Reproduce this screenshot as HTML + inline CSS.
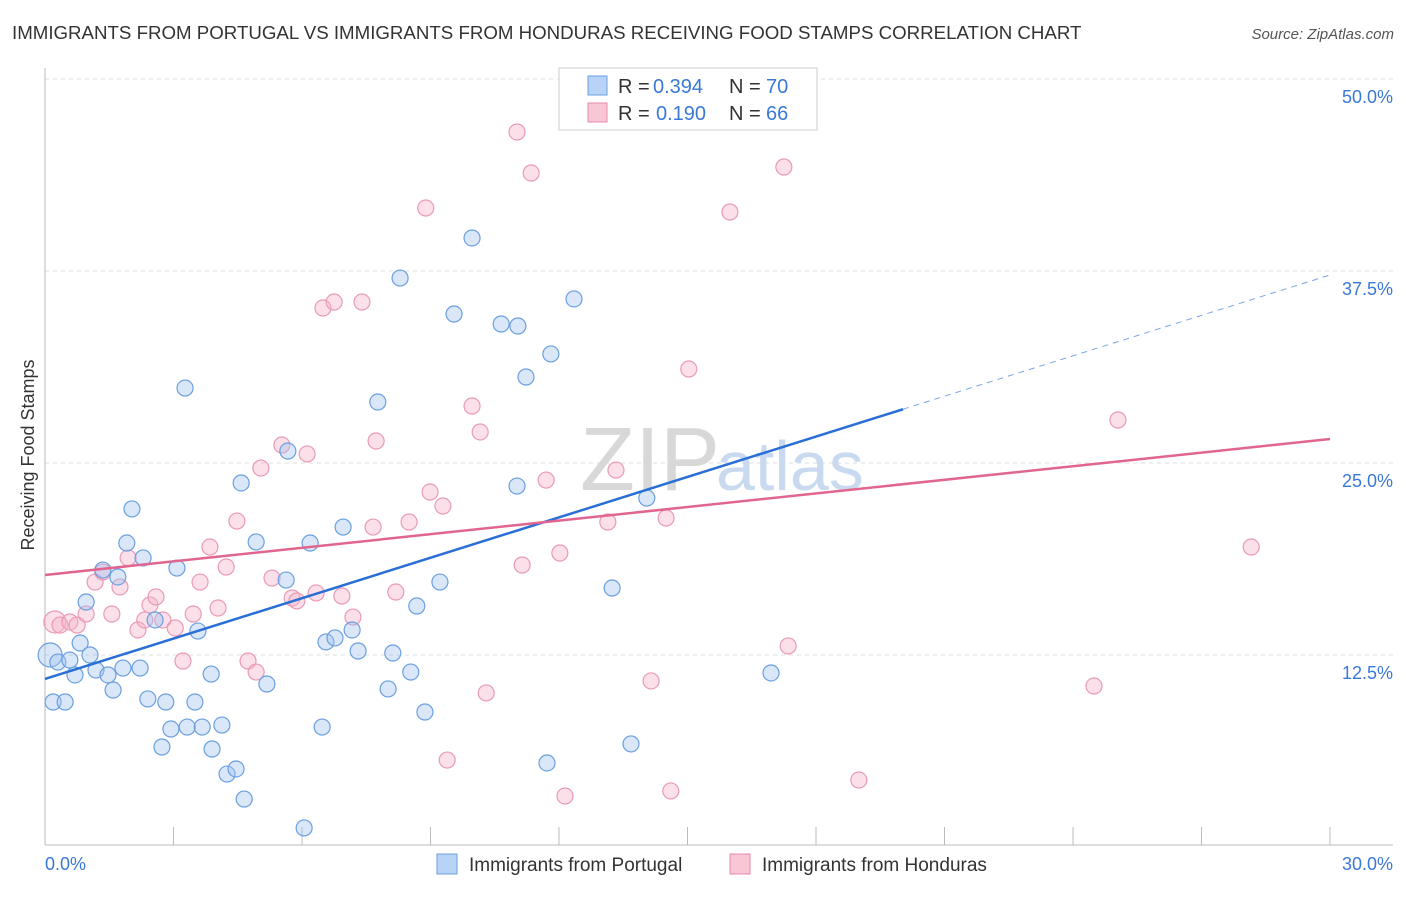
<!DOCTYPE html>
<html><head><meta charset="utf-8"><style>
body{margin:0;background:#fff;font-family:"Liberation Sans",sans-serif;}
svg text{font-family:"Liberation Sans",sans-serif;}
</style></head><body>
<svg width="1406" height="892">
<text x="12" y="39" font-size="18.7" fill="#333">IMMIGRANTS FROM PORTUGAL VS IMMIGRANTS FROM HONDURAS RECEIVING FOOD STAMPS CORRELATION CHART</text>
<text x="1394" y="39" font-size="15" fill="#555" font-style="italic" text-anchor="end">Source: ZipAtlas.com</text>
<g id="grid"></g>
<text x="720" y="490" font-size="90" fill="#d8d8d8" font-family="Liberation Serif" text-anchor="end">ZIP</text>
<text x="716" y="490" font-size="70" fill="#c9d9ef">atlas</text>
<g id="axes"></g>
<g id="marks"></g>
<g id="lines"></g>
<text x="34" y="455" font-size="18" fill="#333" transform="rotate(-90 34 455)" text-anchor="middle">Receiving Food Stamps</text>
<g>
<rect x="559" y="68" width="258" height="62" fill="#fff" stroke="#ccc"/>
<rect x="588" y="76" width="19" height="19" fill="#b8d3f5" stroke="#6a9fe0"/>
<rect x="588" y="103" width="19" height="19" fill="#f9c6d6" stroke="#e88aaa"/>
<text x="618" y="93" font-size="20" fill="#333">R =</text>
<text x="653" y="93" font-size="20" fill="#3a78d8">0.394</text>
<text x="729" y="93" font-size="20" fill="#333">N =</text>
<text x="766" y="93" font-size="20" fill="#3a78d8">70</text>
<text x="618" y="120" font-size="20" fill="#333">R =</text>
<text x="656" y="120" font-size="20" fill="#3a78d8">0.190</text>
<text x="729" y="120" font-size="20" fill="#333">N =</text>
<text x="766" y="120" font-size="20" fill="#3a78d8">66</text>
</g>
<g>
<rect x="437" y="854" width="20" height="20" fill="#b8d3f5" stroke="#6a9fe0"/>
<text x="469" y="871" font-size="19" fill="#333">Immigrants from Portugal</text>
<rect x="730" y="854" width="20" height="20" fill="#f9c6d6" stroke="#e88aaa"/>
<text x="762" y="871" font-size="19" fill="#333">Immigrants from Honduras</text>
</g>
</svg>
<script>
const blueX=[0.12,0.19,0.30,0.47,0.58,0.70,0.82,0.96,1.05,1.19,1.35,1.47,1.59,1.70,1.82,1.91,2.03,2.22,2.29,2.40,2.57,2.73,2.82,2.94,3.08,3.27,3.32,3.50,3.57,3.67,3.88,3.90,4.13,4.25,4.46,4.58,4.65,4.93,5.18,5.63,5.67,6.05,6.19,6.47,6.56,6.77,6.96,7.17,7.31,7.77,8.01,8.12,8.29,8.54,8.68,8.87,9.22,9.55,9.97,10.65,11.02,11.04,11.23,11.72,11.81,12.35,13.24,13.68,14.05,16.95];
const blueY=[12.50,9.44,12.04,9.44,12.17,11.20,13.28,15.95,12.50,11.52,18.03,11.20,10.22,17.58,11.65,19.79,22.01,11.65,18.82,9.64,14.78,6.51,9.44,7.68,18.16,29.88,7.81,9.44,14.06,7.81,11.26,6.38,7.94,4.75,5.08,23.70,3.12,19.86,10.61,17.38,25.78,1.24,19.79,7.81,13.35,13.61,20.83,14.13,12.76,28.97,10.29,12.63,37.04,11.39,15.69,8.79,17.25,34.70,39.65,34.05,23.50,33.92,30.60,5.47,32.10,35.68,16.86,6.71,22.72,11.33];
const pinkX=[0.23,0.35,0.58,0.75,0.96,1.17,1.35,1.56,1.75,1.94,2.17,2.33,2.45,2.59,2.75,3.04,3.22,3.46,3.62,3.85,4.04,4.23,4.48,4.74,4.93,5.04,5.30,5.53,5.77,5.88,6.12,6.33,6.49,6.75,6.93,7.19,7.40,7.66,7.73,8.19,8.50,8.89,8.99,9.29,9.39,9.97,10.16,10.30,11.02,11.14,11.35,11.70,12.02,12.14,13.14,13.33,14.15,14.50,14.61,15.03,15.99,17.25,17.35,19.00,24.49,25.05,28.16];
const pinkY=[14.65,14.45,14.65,14.45,15.17,17.25,17.90,15.17,16.93,18.82,14.13,14.78,15.76,16.28,14.78,14.26,12.11,15.17,17.25,19.53,15.56,18.23,21.22,12.11,11.39,24.67,17.51,26.17,16.21,16.02,25.59,16.54,35.09,35.48,16.34,14.97,35.48,20.83,26.43,16.60,21.16,41.60,23.11,22.20,5.66,28.71,27.02,10.03,46.55,18.36,43.88,23.89,19.14,3.32,21.16,24.54,10.81,21.42,3.65,31.12,41.34,44.27,13.09,4.36,10.48,27.80,19.53];
const blueTrend=[10.94,37.24];
const pinkTrend=[17.71,26.56];
const yTicks=[12.5,25,37.5,50];
const yTickLabels=["12.5%","25.0%","37.5%","50.0%"];
const xTicks=[0,3,6,9,12,15,18,21,24,27,30];

const NS="http://www.w3.org/2000/svg";
const sx=v=>45+v/30*1285;
const sy=v=>847-v/50*768;
function mk(p,tag,at){const e=document.createElementNS(NS,tag);for(const k in at)e.setAttribute(k,at[k]);document.getElementById(p).appendChild(e);return e;}
yTicks.forEach((t,i)=>{
  const g=mk('grid','line',{x1:45,x2:1393,y1:sy(t),y2:sy(t),stroke:'#ddd','stroke-dasharray':'4,4'});
  
  
  const tx=mk('axes','text',{x:1393,y:sy(t)+24,'font-size':18,fill:'#3a78d8','text-anchor':'end'});
  tx.textContent=yTickLabels[i];
  
  
});
const ax=mk('axes','line',{x1:45,x2:45,y1:68,y2:845,stroke:'#bbb'});


const bx=mk('axes','line',{x1:45,x2:1393,y1:845,y2:845,stroke:'#bbb'});


xTicks.forEach(t=>{
  const l=mk('axes','line',{x1:sx(t),x2:sx(t),y1:827,y2:845,stroke:'#bbb'});
  
  
});
const x0=mk('axes','text',{x:45,y:870,'font-size':18,fill:'#3a78d8'});x0.textContent='0.0%';


const x1=mk('axes','text',{x:1393,y:870,'font-size':18,fill:'#3a78d8','text-anchor':'end'});x1.textContent='30.0%';


pinkX.forEach((x,i)=>{
  const c=mk('marks','circle',{cx:sx(x),cy:sy(pinkY[i]),r:i==0?11:8,fill:'rgba(246,178,200,0.4)',stroke:'#e99ab5','stroke-width':1.2});
  
  
});
blueX.forEach((x,i)=>{
  const c=mk('marks','circle',{cx:sx(x),cy:sy(blueY[i]),r:i==0?12:8,fill:'rgba(160,196,240,0.4)',stroke:'#6a9fe0','stroke-width':1.2});
  
  
});
const bt=v=>blueTrend[0]+(blueTrend[1]-blueTrend[0])*v/30;
const xs=20.03;
const l1=mk('lines','line',{x1:sx(0),y1:sy(bt(0)),x2:sx(xs),y2:sy(bt(xs)),stroke:'#2a6fd6','stroke-width':2.5});


const l2=mk('lines','line',{x1:sx(xs),y1:sy(bt(xs)),x2:sx(30),y2:sy(bt(30)),stroke:'#7aa6e6','stroke-width':1,'stroke-dasharray':'6,5'});


const l3=mk('lines','line',{x1:sx(0),y1:sy(pinkTrend[0]),x2:sx(30),y2:sy(pinkTrend[1]),stroke:'#e0658f','stroke-width':2.5});


</script>
</body></html>
